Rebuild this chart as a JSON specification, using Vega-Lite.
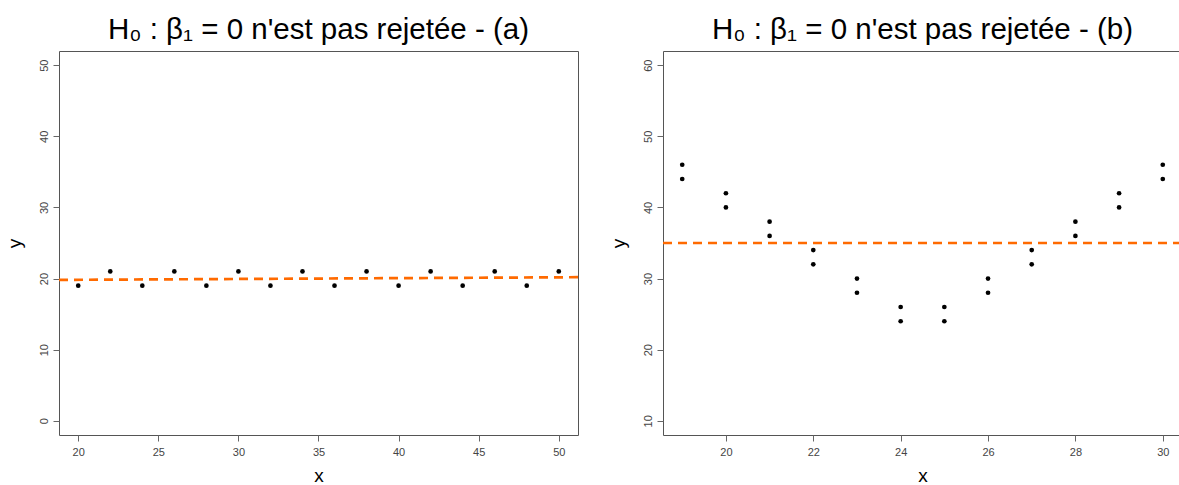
{
  "$schema": "https://vega.github.io/schema/vega-lite/v6.json",
  "background": "white",
  "padding": {"left": 4, "top": 14, "right": 0, "bottom": 0},
  "bounds": "flush",
  "spacing": 85,
  "datasets": {
    "a": [
      {"x": 20, "y": 19}, {"x": 22, "y": 21}, {"x": 24, "y": 19}, {"x": 26, "y": 21},
      {"x": 28, "y": 19}, {"x": 30, "y": 21}, {"x": 32, "y": 19}, {"x": 34, "y": 21},
      {"x": 36, "y": 19}, {"x": 38, "y": 21}, {"x": 40, "y": 19}, {"x": 42, "y": 21},
      {"x": 44, "y": 19}, {"x": 46, "y": 21}, {"x": 48, "y": 19}, {"x": 50, "y": 21}
    ],
    "la": [{"x": 18.8, "y": 19.812}, {"x": 51.2, "y": 20.188}],
    "b": [
      {"x": 19, "y": 44}, {"x": 19, "y": 46}, {"x": 20, "y": 40}, {"x": 20, "y": 42},
      {"x": 21, "y": 36}, {"x": 21, "y": 38}, {"x": 22, "y": 32}, {"x": 22, "y": 34},
      {"x": 23, "y": 28}, {"x": 23, "y": 30}, {"x": 24, "y": 24}, {"x": 24, "y": 26},
      {"x": 25, "y": 24}, {"x": 25, "y": 26}, {"x": 26, "y": 28}, {"x": 26, "y": 30},
      {"x": 27, "y": 32}, {"x": 27, "y": 34}, {"x": 28, "y": 36}, {"x": 28, "y": 38},
      {"x": 29, "y": 40}, {"x": 29, "y": 42}, {"x": 30, "y": 44}, {"x": 30, "y": 46}
    ],
    "lb": [{"x": 18.56, "y": 35}, {"x": 30.44, "y": 35}]
  },
  "config": {
    "font": "Liberation Sans",
    "view": {"stroke": "#555555", "strokeWidth": 1},
    "axis": {
      "domain": false, "grid": false, "tickSize": 6, "tickColor": "#666666",
      "labelFont": "Liberation Sans", "labelFontSize": 11, "labelColor": "#444444",
      "titleFont": "Liberation Sans", "titleFontSize": 19, "titleFontWeight": "normal",
      "titleColor": "black"
    },
    "axisBottom": {"labelPadding": 5, "titleX": 259.5, "titleY": 46, "titleBaseline": "alphabetic", "titleAlign": "center"},
    "axisLeft": {"labelPadding": 4, "labelAngle": -90, "titleX": -39, "titleY": 192, "titleBaseline": "alphabetic", "titleAlign": "center"},
    "title": {"fontSize": 29.5, "fontWeight": "normal", "color": "black", "anchor": "middle", "frame": "group", "offset": 6, "font": "Liberation Sans"}
  },
  "hconcat": [
    {
      "width": 519, "height": 384,
      "title": "H₀ : β₁ = 0 n'est pas rejetée - (a)",
      "layer": [
        {
          "data": {"name": "a"},
          "mark": {"type": "point", "filled": true, "shape": "circle", "size": 22, "color": "black", "opacity": 1},
          "encoding": {
            "x": {"field": "x", "type": "quantitative", "scale": {"domain": [18.8, 51.2], "nice": false, "zero": false}, "axis": {"values": [20, 25, 30, 35, 40, 45, 50], "title": "x"}},
            "y": {"field": "y", "type": "quantitative", "scale": {"domain": [-2, 52], "nice": false, "zero": false}, "axis": {"values": [0, 10, 20, 30, 40, 50], "title": "y"}}
          }
        },
        {
          "data": {"name": "la"},
          "mark": {"type": "line", "color": "#FF6A00", "strokeWidth": 2.7, "strokeDash": [9, 6], "clip": true},
          "encoding": {
            "x": {"field": "x", "type": "quantitative"},
            "y": {"field": "y", "type": "quantitative"}
          }
        }
      ]
    },
    {
      "width": 519, "height": 384,
      "title": "H₀ : β₁ = 0 n'est pas rejetée - (b)",
      "layer": [
        {
          "data": {"name": "b"},
          "mark": {"type": "point", "filled": true, "shape": "circle", "size": 22, "color": "black", "opacity": 1},
          "encoding": {
            "x": {"field": "x", "type": "quantitative", "scale": {"domain": [18.56, 30.44], "nice": false, "zero": false}, "axis": {"values": [20, 22, 24, 26, 28, 30], "title": "x"}},
            "y": {"field": "y", "type": "quantitative", "scale": {"domain": [8, 62], "nice": false, "zero": false}, "axis": {"values": [10, 20, 30, 40, 50, 60], "title": "y"}}
          }
        },
        {
          "data": {"name": "lb"},
          "mark": {"type": "line", "color": "#FF6A00", "strokeWidth": 2.7, "strokeDash": [9, 6], "clip": true},
          "encoding": {
            "x": {"field": "x", "type": "quantitative"},
            "y": {"field": "y", "type": "quantitative"}
          }
        }
      ]
    }
  ]
}
